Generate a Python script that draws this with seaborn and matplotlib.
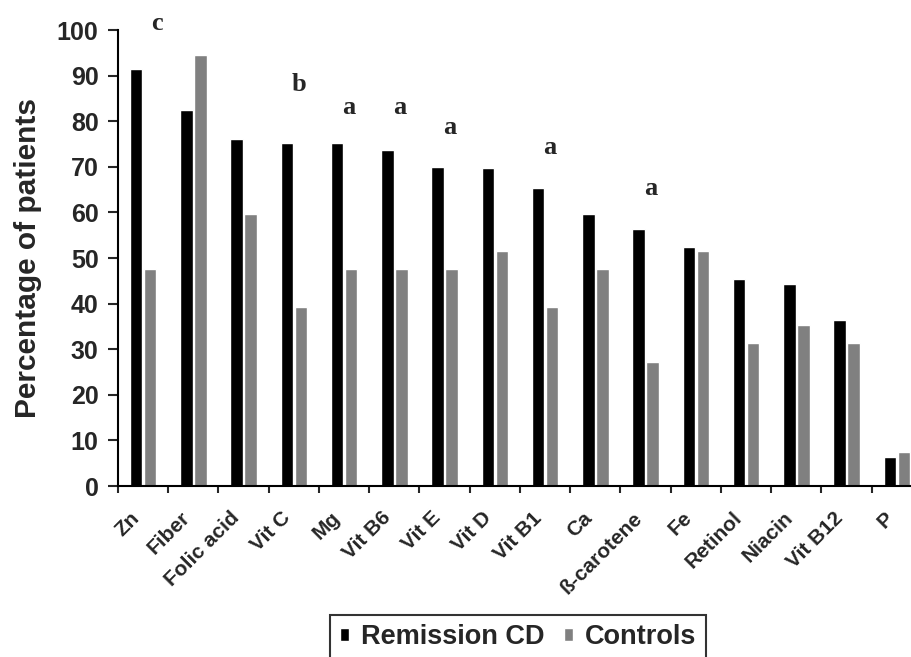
import numpy as np
import pandas as pd
import matplotlib.pyplot as plt
import seaborn as sns

nutrients = ['Zn', 'Fiber', 'Folic acid', 'Vit C', 'Mg', 'Vit B6', 'Vit E', 'Vit D',
             'Vit B1', 'Ca', 'ß-carotene', 'Fe', 'Retinol', 'Niacin', 'Vit B12', 'P']
remission_cd = [91.5, 82.5, 76.2, 75.3, 75.3, 73.7, 70.0, 69.7,
                65.3, 59.6, 56.3, 52.5, 45.5, 44.4, 36.3, 6.4]
controls = [47.5, 94.5, 59.6, 39.3, 47.5, 47.5, 47.5, 51.5,
            39.3, 47.5, 27.2, 51.5, 31.3, 35.2, 31.3, 7.5]

# significance letters above the control bars
sig_nutrients = ['Zn', 'Vit C', 'Mg', 'Vit B6', 'Vit E', 'Vit B1', 'ß-carotene']
sig_letters = ['c', 'b', 'a', 'a', 'a', 'a', 'a']
sig_heights = [101.5, 88, 83, 83, 78.7, 74.3, 65.3]

df = pd.DataFrame({
    'Nutrient': nutrients * 2,
    'Percentage': remission_cd + controls,
    'Group': ['Remission CD'] * len(nutrients) + ['Controls'] * len(nutrients),
})

sns.set_style('ticks')
plt.rcParams['font.family'] = ['Liberation Sans', 'DejaVu Sans']
plt.rcParams['font.weight'] = 'bold'

fig = plt.figure(figsize=(9.12, 6.57), dpi=100)
ax = fig.add_axes([118 / 912, (657 - 486) / 657, 804 / 912, 456 / 657])

sns.barplot(data=df, x='Nutrient', y='Percentage', hue='Group',
            palette=['#000000', '#808080'], saturation=1,
            width=0.56, gap=0.12, ax=ax)

ax.set_xlim(-0.5, 15.5)
ax.set_ylim(0, 100)
ax.set_yticks(range(0, 101, 10))
ax.set_xticks(np.arange(-0.5, 16, 1), minor=True)
ax.tick_params(axis='y', length=7, width=1.5, pad=7, labelsize=18)
ax.tick_params(axis='x', which='major', length=0, pad=16, labelsize=15)
ax.tick_params(axis='x', which='minor', length=5, width=1.5)
plt.setp(ax.get_xticklabels(), rotation=45, ha='right', fontweight='bold')
plt.setp(ax.get_yticklabels(), fontweight='bold')

sns.despine(ax=ax)
for side in ['left', 'bottom']:
    ax.spines[side].set_linewidth(1.5)
    ax.spines[side].set_color('black')

ax.set_xlabel('')
ax.set_ylabel('Percentage of patients', fontsize=21.5, fontweight='bold')
ax.yaxis.set_label_coords(-0.095, 0.5)

for name, letter, h in zip(sig_nutrients, sig_letters, sig_heights):
    i = nutrients.index(name)
    dx = 0.27 if letter == 'c' else 0.1
    ax.text(i + dx, h, letter, ha='center', va='center', fontsize=19,
            family='Liberation Serif', fontweight='bold', clip_on=False)

handles, labels = ax.get_legend_handles_labels()
ax.get_legend().remove()
leg = fig.legend(handles, labels, loc='upper center', ncol=2,
                 bbox_to_anchor=(518 / 912, 1 - 615 / 657),
                 prop={'size': 19.5, 'weight': 'bold'},
                 handlelength=0.34, handleheight=0.34, handletextpad=0.45,
                 columnspacing=0.7, borderpad=0.35, borderaxespad=0,
                 fancybox=False, frameon=True)
leg.get_frame().set_edgecolor('black')
leg.get_frame().set_linewidth(1.5)

fig.savefig('out.png', dpi=100)
